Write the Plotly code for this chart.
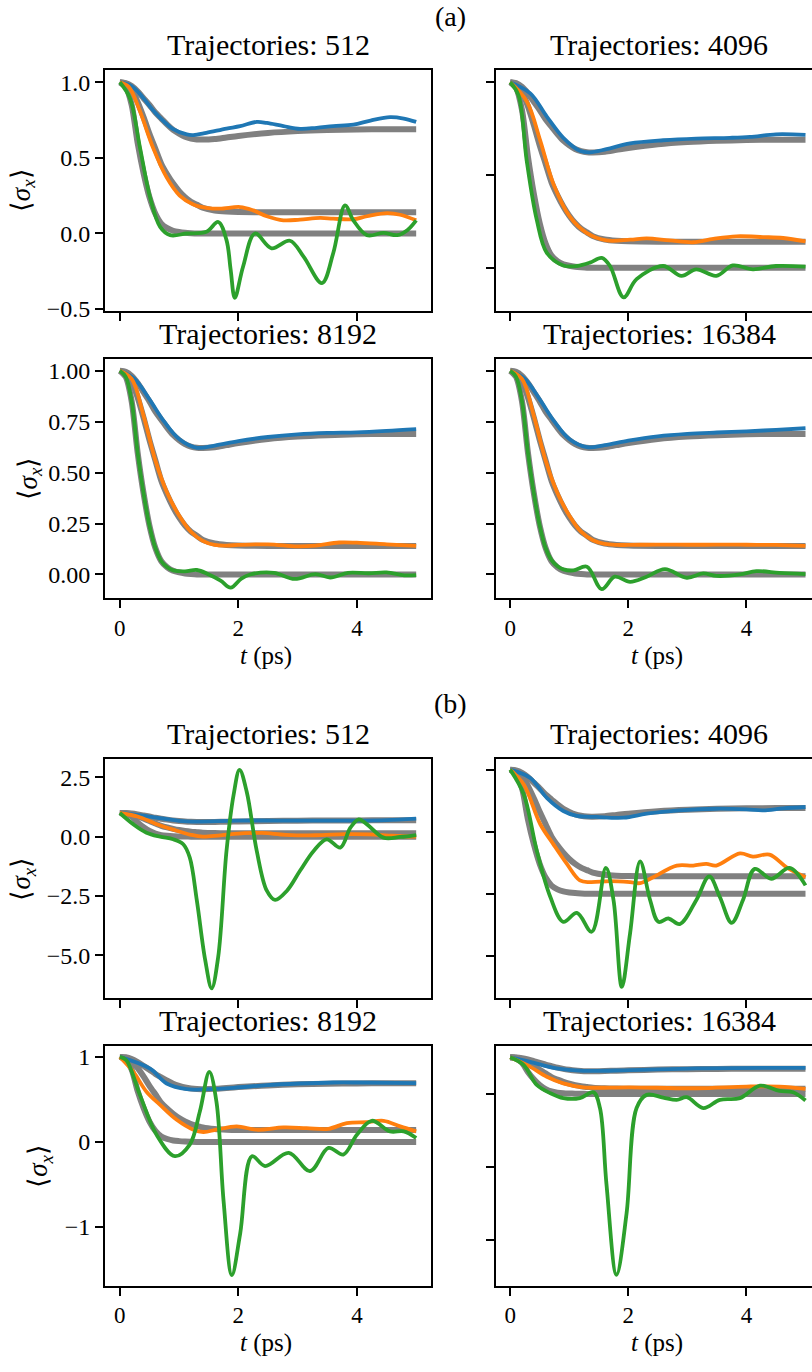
import plotly.graph_objects as go

# ---------------- data ----------------
# exact (reference) curves, shared by all panels
REF_T = [0, 0.1, 0.2, 0.3, 0.4, 0.5, 0.6, 0.7, 0.8, 0.9, 1.0, 1.1, 1.2, 1.3, 1.4, 1.6, 1.8, 2.0, 2.5, 3.0, 3.5, 4.0, 4.5, 5.0]
REF_BLUE = [1.0, 0.995, 0.975, 0.94, 0.895, 0.85, 0.80, 0.76, 0.72, 0.685, 0.66, 0.64, 0.628, 0.622, 0.621, 0.625, 0.635, 0.645, 0.665, 0.677, 0.684, 0.688, 0.69, 0.69]
REF_ORANGE = [1.0, 0.99, 0.95, 0.87, 0.77, 0.66, 0.56, 0.46, 0.39, 0.33, 0.28, 0.24, 0.21, 0.19, 0.17, 0.152, 0.145, 0.142, 0.14, 0.14, 0.14, 0.14, 0.14, 0.14]
REF_GREEN = [1.0, 0.97, 0.85, 0.6, 0.4, 0.24, 0.13, 0.065, 0.035, 0.018, 0.01, 0.005, 0.002, 0.0, 0, 0, 0, 0, 0, 0, 0, 0, 0, 0]

# (a) 512 trajectories
A512_BLUE_T = [0, 0.2, 0.39, 0.55, 0.68, 0.9, 1.13, 1.24, 1.46, 1.8, 2.03, 2.31, 2.48, 2.76, 3.04, 3.32, 3.6, 3.94, 4.23, 4.56, 4.79, 5.0]
A512_BLUE = [1.0, 0.975, 0.9, 0.82, 0.765, 0.69, 0.655, 0.651, 0.666, 0.694, 0.71, 0.738, 0.731, 0.71, 0.692, 0.699, 0.71, 0.72, 0.747, 0.769, 0.76, 0.738]
A512_ORANGE_T = [0, 0.15, 0.34, 0.56, 0.79, 1.01, 1.24, 1.46, 1.69, 2.03, 2.25, 2.48, 2.76, 3.04, 3.38, 3.6, 3.94, 4.17, 4.51, 4.73, 5.0]
A512_ORANGE = [1.0, 0.97, 0.808, 0.568, 0.371, 0.251, 0.192, 0.17, 0.164, 0.175, 0.153, 0.114, 0.087, 0.092, 0.103, 0.098, 0.094, 0.114, 0.135, 0.124, 0.087]
A512_GREEN_T = [0, 0.17, 0.34, 0.51, 0.68, 0.85, 1.13, 1.46, 1.66, 1.8, 1.87, 1.94, 2.08, 2.28, 2.56, 2.87, 3.1, 3.41, 3.6, 3.8, 3.94, 4.17, 4.45, 4.68, 4.85, 5.0]
A512_GREEN = [1.0, 0.895, 0.568, 0.24, 0.044, -0.011, 0.0, 0.011, 0.076, -0.044, -0.24, -0.426, -0.218, 0.0, -0.098, -0.048, -0.153, -0.328, -0.131, 0.186, 0.087, -0.011, 0.004, -0.011, 0.022, 0.087]

# (a) 4096 trajectories
A4096_BLUE_T = [0, 0.34, 0.62, 0.9, 1.18, 1.35, 1.63, 2.03, 2.59, 3.15, 3.72, 4.06, 4.5, 5.0]
A4096_BLUE = [1.0, 0.94, 0.815, 0.70, 0.63, 0.622, 0.639, 0.67, 0.687, 0.696, 0.70, 0.705, 0.719, 0.716]
A4096_ORANGE_T = [0, 0.28, 0.51, 0.73, 1.01, 1.3, 1.63, 2.03, 2.31, 2.7, 3.1, 3.44, 3.83, 4.28, 4.62, 5.0]
A4096_ORANGE = [1.0, 0.897, 0.684, 0.453, 0.275, 0.186, 0.147, 0.151, 0.158, 0.147, 0.137, 0.155, 0.169, 0.165, 0.16, 0.142]
A4096_GREEN_T = [0, 0.14, 0.28, 0.45, 0.62, 0.9, 1.13, 1.35, 1.55, 1.69, 1.92, 2.14, 2.59, 2.9, 3.15, 3.49, 3.77, 4.11, 4.5, 5.0]
A4096_GREEN = [1.0, 0.93, 0.577, 0.258, 0.08, 0.012, 0.009, 0.027, 0.053, 0.009, -0.16, -0.062, 0.009, -0.044, -0.009, -0.044, 0.012, -0.009, 0.009, 0.005]

# (a) 8192 trajectories
A8192_BLUE_T = [0, 0.25, 0.5, 0.75, 1.0, 1.3, 1.6, 2.0, 2.5, 3.0, 3.5, 4.0, 4.5, 5.0]
A8192_BLUE = [1.0, 0.96, 0.86, 0.75, 0.665, 0.622, 0.633, 0.655, 0.675, 0.688, 0.695, 0.698, 0.705, 0.714]
A8192_ORANGE_T = [0, 0.2, 0.4, 0.6, 0.8, 1.0, 1.2, 1.4, 1.6, 1.8, 2.0, 2.5, 3.0, 3.3, 3.7, 4.0, 4.5, 5.0]
A8192_ORANGE = [1.0, 0.96, 0.78, 0.56, 0.4, 0.29, 0.21, 0.165, 0.145, 0.142, 0.145, 0.148, 0.138, 0.142, 0.157, 0.156, 0.148, 0.14]
A8192_GREEN_T = [0, 0.1, 0.2, 0.3, 0.4, 0.5, 0.6, 0.7, 0.8, 0.9, 1.1, 1.3, 1.5, 1.7, 1.87, 2.05, 2.2, 2.6, 2.95, 3.3, 3.55, 3.85, 4.2, 4.5, 4.8, 5.0]
A8192_GREEN = [1.0, 0.97, 0.85, 0.6, 0.4, 0.24, 0.13, 0.065, 0.035, 0.02, 0.015, 0.022, 0.0, -0.03, -0.065, -0.02, 0.0, 0.008, -0.022, 0.002, -0.015, 0.008, 0.006, 0.01, -0.004, -0.003]

# (a) 16384 trajectories
A16384_BLUE_T = [0, 0.25, 0.5, 0.75, 1.0, 1.3, 1.6, 2.0, 2.5, 3.0, 3.5, 4.0, 4.5, 5.0]
A16384_BLUE = [1.0, 0.96, 0.86, 0.75, 0.665, 0.625, 0.635, 0.657, 0.678, 0.69, 0.697, 0.703, 0.71, 0.718]
A16384_ORANGE_T = [0, 0.2, 0.4, 0.6, 0.8, 1.0, 1.2, 1.4, 1.6, 1.8, 2.0, 2.5, 3.0, 3.3, 3.7, 4.0, 4.5, 5.0]
A16384_ORANGE = [1.0, 0.96, 0.78, 0.56, 0.4, 0.29, 0.21, 0.168, 0.15, 0.145, 0.145, 0.147, 0.146, 0.146, 0.147, 0.146, 0.145, 0.14]
A16384_GREEN_T = [0, 0.1, 0.2, 0.3, 0.4, 0.5, 0.6, 0.7, 0.8, 0.9, 1.07, 1.3, 1.55, 1.77, 2.03, 2.31, 2.62, 2.99, 3.27, 3.49, 3.89, 4.17, 4.56, 5.0]
A16384_GREEN = [1.0, 0.97, 0.85, 0.6, 0.4, 0.24, 0.13, 0.07, 0.04, 0.025, 0.02, 0.038, -0.072, -0.011, -0.036, -0.011, 0.026, -0.016, 0.005, -0.007, 0.0, 0.016, 0.008, 0.002]

# (b) 512 trajectories
B512_BLUE_T = [0, 0.5, 1.0, 1.3, 2.0, 3.0, 4.0, 4.5, 5.0]
B512_BLUE = [1.0, 0.85, 0.67, 0.64, 0.68, 0.68, 0.68, 0.7, 0.76]
B512_ORANGE_T = [0, 0.3, 0.6, 0.9, 1.2, 1.4, 1.7, 2.1, 2.4, 2.8, 3.3, 3.8, 4.2, 4.6, 5.0]
B512_ORANGE = [1.0, 0.85, 0.55, 0.3, 0.08, 0.0, 0.06, 0.15, 0.16, 0.08, 0.06, 0.11, 0.1, 0.04, 0.0]
B512_GREEN_T = [0, 0.23, 0.45, 0.68, 0.9, 1.07, 1.18, 1.3, 1.44, 1.55, 1.66, 1.8, 1.92, 2.02, 2.14, 2.31, 2.48, 2.62, 2.82, 3.04, 3.27, 3.49, 3.72, 3.89, 4.03, 4.17, 4.45, 4.73, 5.0]
B512_GREEN = [1.0, 0.52, 0.17, 0.0, -0.11, -0.32, -0.88, -2.7, -5.2, -6.4, -5.07, -0.6, 1.77, 2.82, 1.91, -0.6, -2.28, -2.67, -2.28, -1.44, -0.6, -0.11, -0.46, 0.38, 0.73, 0.52, -0.04, -0.01, 0.07]

# (b) 4096 trajectories
B4096_BLUE_T = [0, 0.34, 0.62, 0.9, 1.13, 1.46, 1.92, 2.31, 2.87, 3.49, 4.0, 4.28, 4.62, 5.0]
B4096_BLUE = [1.0, 0.933, 0.773, 0.667, 0.627, 0.619, 0.613, 0.645, 0.672, 0.685, 0.68, 0.672, 0.688, 0.699]
B4096_ORANGE_T = [0, 0.23, 0.51, 0.73, 0.96, 1.18, 1.35, 1.69, 2.03, 2.2, 2.42, 2.82, 3.1, 3.32, 3.49, 3.89, 4.11, 4.39, 4.68, 5.0]
B4096_ORANGE = [1.0, 0.88, 0.56, 0.40, 0.24, 0.107, 0.093, 0.101, 0.093, 0.085, 0.133, 0.227, 0.227, 0.24, 0.227, 0.325, 0.299, 0.315, 0.213, 0.133]
B4096_GREEN_T = [0, 0.23, 0.45, 0.68, 0.9, 1.13, 1.38, 1.62, 1.75, 1.89, 2.03, 2.2, 2.37, 2.51, 2.68, 2.87, 3.15, 3.37, 3.55, 3.75, 3.94, 4.14, 4.42, 4.73, 5.0]
B4096_GREEN = [1.0, 0.8, 0.347, -0.027, -0.227, -0.155, -0.307, 0.208, -0.053, -0.752, -0.32, 0.261, -0.053, -0.227, -0.2, -0.245, -0.053, 0.139, -0.027, -0.235, -0.053, 0.2, 0.12, 0.208, 0.067]

# (b) 8192 trajectories
B8192_BLUE_T = [0, 0.51, 0.79, 1.13, 1.46, 1.92, 2.48, 3.04, 3.6, 4.0, 5.0]
B8192_BLUE = [1.0, 0.862, 0.687, 0.621, 0.621, 0.637, 0.668, 0.687, 0.699, 0.699, 0.691]
B8192_ORANGE_T = [0, 0.23, 0.45, 0.68, 0.96, 1.24, 1.41, 1.63, 1.97, 2.31, 2.76, 3.15, 3.52, 3.83, 4.17, 4.45, 4.73, 5.0]
B8192_ORANGE = [1.0, 0.823, 0.59, 0.435, 0.26, 0.144, 0.117, 0.144, 0.183, 0.144, 0.171, 0.163, 0.155, 0.221, 0.233, 0.249, 0.183, 0.124]
B8192_GREEN_T = [0, 0.11, 0.34, 0.62, 0.93, 1.18, 1.35, 1.51, 1.63, 1.75, 1.89, 2.03, 2.23, 2.45, 2.85, 3.21, 3.52, 3.77, 4.0, 4.25, 4.56, 4.79, 5.0]
B8192_GREEN = [1.0, 0.96, 0.551, 0.085, -0.167, -0.031, 0.357, 0.823, 0.474, -0.691, -1.565, -1.08, -0.167, -0.283, -0.128, -0.342, -0.07, -0.148, 0.085, 0.249, 0.124, 0.124, 0.047]

# (b) 16384 trajectories
B16384_BLUE_T = [0, 0.34, 0.79, 1.24, 2.03, 3.15, 5.0]
B16384_BLUE = [1.0, 0.876, 0.696, 0.632, 0.65, 0.696, 0.714]
B16384_ORANGE_T = [0, 0.34, 0.62, 0.9, 1.24, 2.03, 3.15, 4.0, 4.56, 5.0]
B16384_ORANGE = [1.0, 0.74, 0.47, 0.289, 0.18, 0.18, 0.154, 0.2, 0.2, 0.135]
B16384_GREEN_T = [0, 0.23, 0.45, 0.68, 0.9, 1.18, 1.41, 1.52, 1.63, 1.8, 1.97, 2.14, 2.31, 2.59, 2.82, 2.99, 3.27, 3.55, 3.89, 4.23, 4.56, 4.79, 5.0]
B16384_GREEN = [1.0, 0.786, 0.244, 0.018, -0.117, -0.117, 0.045, -0.388, -2.466, -4.95, -3.28, -0.388, -0.027, -0.1, -0.163, -0.09, -0.388, -0.163, -0.117, 0.226, 0.081, 0.045, -0.18]

X_TICKS = [0, 2, 4]
X_TICK_TEXT = ["0", "2", "4"]

# ---------------- layout ----------------
W, H = 812, 1372
FONT = "'Liberation Serif', 'Times New Roman', serif"
BLUE, ORANGE, GREEN, GRAY = "#1f77b4", "#ff7f0e", "#2ca02c", "#808080"

LEFT = (105, 431)
RIGHT = (496, 812)

panels = [
    dict(title="Trajectories: 512", col=LEFT, top=69, bot=312, xr=[-0.25, 5.25],
         yr=[-0.513, 1.079], yt=[-0.5, 0, 0.5, 1.0], ytt=["\u22120.5", "0.0", "0.5", "1.0"], xlab=False,
         data=[(A512_BLUE_T, A512_BLUE), (A512_ORANGE_T, A512_ORANGE), (A512_GREEN_T, A512_GREEN)]),
    dict(title="Trajectories: 4096", col=RIGHT, top=69, bot=312, xr=[-0.24, 5.11],
         yr=[-0.234, 1.064], yt=[0, 0.5, 1.0], ytt=None, xlab=False,
         data=[(A4096_BLUE_T, A4096_BLUE), (A4096_ORANGE_T, A4096_ORANGE), (A4096_GREEN_T, A4096_GREEN)]),
    dict(title="Trajectories: 8192", col=LEFT, top=360, bot=602, xr=[-0.25, 5.25],
         yr=[-0.117, 1.06], yt=[0, 0.25, 0.5, 0.75, 1.0], ytt=["0.00", "0.25", "0.50", "0.75", "1.00"], xlab=True,
         data=[(A8192_BLUE_T, A8192_BLUE), (A8192_ORANGE_T, A8192_ORANGE), (A8192_GREEN_T, A8192_GREEN)]),
    dict(title="Trajectories: 16384", col=RIGHT, top=360, bot=602, xr=[-0.24, 5.11],
         yr=[-0.117, 1.06], yt=[0, 0.25, 0.5, 0.75, 1.0], ytt=None, xlab=True,
         data=[(A16384_BLUE_T, A16384_BLUE), (A16384_ORANGE_T, A16384_ORANGE), (A16384_GREEN_T, A16384_GREEN)]),
    dict(title="Trajectories: 512", col=LEFT, top=764, bot=1006, xr=[-0.25, 5.25],
         yr=[-6.83, 3.29], yt=[-5.0, -2.5, 0, 2.5], ytt=["\u22125.0", "\u22122.5", "0.0", "2.5"], xlab=False,
         data=[(B512_BLUE_T, B512_BLUE), (B512_ORANGE_T, B512_ORANGE), (B512_GREEN_T, B512_GREEN)]),
    dict(title="Trajectories: 4096", col=RIGHT, top=764, bot=1006, xr=[-0.24, 5.11],
         yr=[-0.845, 1.088], yt=[-0.5, 0, 0.5, 1.0], ytt=None, xlab=False,
         data=[(B4096_BLUE_T, B4096_BLUE), (B4096_ORANGE_T, B4096_ORANGE), (B4096_GREEN_T, B4096_GREEN)]),
    dict(title="Trajectories: 8192", col=LEFT, top=1054, bot=1296, xr=[-0.25, 5.25],
         yr=[-1.69, 1.128], yt=[-1, 0, 1], ytt=["\u22121", "0", "1"], xlab=True,
         data=[(B8192_BLUE_T, B8192_BLUE), (B8192_ORANGE_T, B8192_ORANGE), (B8192_GREEN_T, B8192_GREEN)]),
    dict(title="Trajectories: 16384", col=RIGHT, top=1054, bot=1296, xr=[-0.24, 5.11],
         yr=[-5.25, 1.31], yt=[-4, -2, 0], ytt=None, xlab=True,
         data=[(B16384_BLUE_T, B16384_BLUE), (B16384_ORANGE_T, B16384_ORANGE), (B16384_GREEN_T, B16384_GREEN)]),
]

fig = go.Figure()
annotations = []
layout_axes = {}

def px_x(p):
    return p / W

def px_y(p):
    return 1 - p / H

for i, p in enumerate(panels):
    n = "" if i == 0 else str(i + 1)
    xa, ya = "x" + n, "y" + n
    for refy in (REF_BLUE, REF_ORANGE, REF_GREEN):
        fig.add_trace(go.Scatter(x=REF_T, y=refy, mode="lines", xaxis=xa, yaxis=ya,
                                 line=dict(color=GRAY, width=6, shape="spline", smoothing=0.8),
                                 showlegend=False, hoverinfo="skip"))
    for (tt, yy), c in zip(p["data"], (BLUE, ORANGE, GREEN)):
        fig.add_trace(go.Scatter(x=tt, y=yy, mode="lines", xaxis=xa, yaxis=ya,
                                 line=dict(color=c, width=3.8, shape="spline", smoothing=1.0),
                                 showlegend=False, hoverinfo="skip"))
    is_right = p["col"] == RIGHT
    layout_axes["xaxis" + n] = dict(
        domain=[px_x(p["col"][0]), px_x(p["col"][1])], range=p["xr"], anchor=ya,
        showline=True, linecolor="black", linewidth=1.7, mirror=True,
        ticks="outside", ticklen=8, tickwidth=1.6, tickcolor="black",
        tickvals=X_TICKS, ticktext=X_TICK_TEXT, showticklabels=p["xlab"],
        tickfont=dict(family=FONT, size=23, color="black"),
        showgrid=False, zeroline=False, fixedrange=True)
    yax = dict(
        domain=[px_y(p["bot"]), px_y(p["top"])], range=p["yr"], anchor=xa,
        showline=True, linecolor="black", linewidth=1.7, mirror=not is_right,
        ticks="outside", ticklen=8, tickwidth=1.6, tickcolor="black",
        tickvals=p["yt"], showgrid=False, zeroline=False, fixedrange=True,
        tickfont=dict(family=FONT, size=24, color="black"))
    if p["ytt"] is None:
        yax["showticklabels"] = False
    else:
        yax["ticktext"] = p["ytt"]
    layout_axes["yaxis" + n] = yax

    cx = (p["col"][0] + (822 if is_right else p["col"][1])) / 2
    annotations.append(dict(text=p["title"], x=px_x(cx), y=px_y(p["top"] - 7), xref="paper", yref="paper",
                            xanchor="center", yanchor="bottom", showarrow=False,
                            font=dict(family=FONT, size=30, color="black")))
    if p["xlab"]:
        annotations.append(dict(text="<i>t</i> (ps)", x=px_x(cx - 2), y=px_y(p["bot"] + 58), xref="paper", yref="paper",
                                xanchor="center", yanchor="middle", showarrow=False,
                                font=dict(family=FONT, size=25, color="black")))

# y-axis labels (left column only)
for (ly, lx) in ((190, 23), (481, 30), (885, 23), (1175, 40)):
    annotations.append(dict(text="\u27e8<i>\u03c3</i><sub><i>x</i></sub>\u27e9", x=px_x(lx), y=px_y(ly),
                            xref="paper", yref="paper", xanchor="center", yanchor="middle",
                            textangle=-90, showarrow=False, font=dict(family=FONT, size=27, color="black")))

# group labels
annotations.append(dict(text="(a)", x=px_x(451), y=px_y(15), xref="paper", yref="paper", xanchor="center",
                        yanchor="middle", showarrow=False, font=dict(family=FONT, size=28, color="black")))
annotations.append(dict(text="(b)", x=px_x(451), y=px_y(708), xref="paper", yref="paper", xanchor="center",
                        yanchor="middle", showarrow=False, font=dict(family=FONT, size=28, color="black")))

fig.update_layout(width=W, height=H, margin=dict(l=0, r=0, t=0, b=0), autosize=False,
                  paper_bgcolor="white", plot_bgcolor="white", showlegend=False,
                  font=dict(family=FONT, color="black"),
                  annotations=annotations, **layout_axes)

fig.write_html("out.html", config={"displayModeBar": False})
